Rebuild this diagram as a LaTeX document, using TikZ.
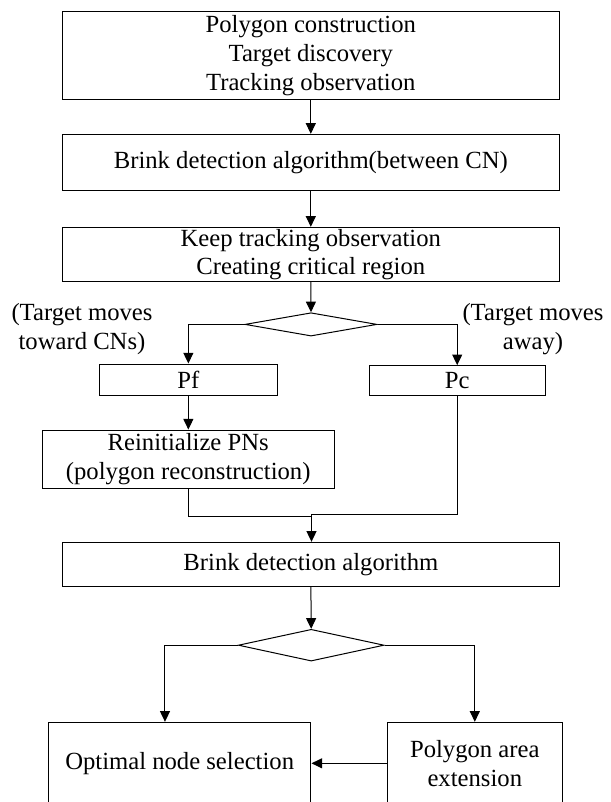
\documentclass[tikz,border=0pt]{standalone}
\usepackage{fontspec}
\setmainfont{Liberation Serif}
\usetikzlibrary{shapes.geometric,arrows.meta,calc}
\begin{document}
\begin{tikzpicture}[x=0.75pt,y=-0.75pt,
  every node/.style={font=\fontsize{18.5pt}{21.5pt}\selectfont, inner sep=0pt, align=center},
  box/.style={draw, rectangle, line width=0.75pt},
  decision/.style={draw, diamond, line width=0.75pt},
  link/.style={line width=0.75pt},
  flow/.style={link, -{Triangle[length=8pt,width=7.5pt]}}]
\clip (0,0) rectangle (610,802);

% main column
\node[box, minimum width=372.75pt, minimum height=65.7pt] (init) at (310.8,55.5)
  {Polygon construction\\Target discovery\\Tracking observation};
\node[box, minimum width=372.75pt, minimum height=41.8pt] (brink1) at (310.8,162.2)
  {Brink detection algorithm(between CN)};
\node[box, minimum width=372.75pt, minimum height=40.8pt] (keep) at (310.8,254.5)
  {Keep tracking observation\\Creating critical region};
\node[decision, minimum width=99pt, minimum height=17.5pt] (dec1) at (311,324.4) {};

% two branches
\node[box, minimum width=134pt, minimum height=23.25pt] (pf) at (188.35,379.5) {Pf};
\node[box, minimum width=132pt, minimum height=22pt] (pc) at (457.2,380.35) {Pc};
\node[box, minimum width=218.8pt, minimum height=43.7pt] (reinit) at (188.2,459.2)
  {Reinitialize PNs\\(polygon reconstruction)};
\node (lbltoward) at (82,329) {(Target moves\\toward CNs)};
\node (lblaway) at (533,329) {(Target moves\\away)};

% second stage
\node[box, minimum width=372.6pt, minimum height=33.3pt] (brink2) at (310.9,564.5)
  {Brink detection algorithm};
\node[decision, minimum width=109.3pt, minimum height=23.8pt] (dec2) at (311.2,645.2) {};
\node[box, minimum width=197pt, minimum height=61.5pt] (optimal) at (179.65,763.3)
  {Optimal node selection};
\node[box, minimum width=131.25pt, minimum height=61.5pt] (extend) at (474.8,763.3)
  {Polygon area\\extension};

% connectors
\coordinate (joinL) at (311.5,516);
\coordinate (joinR) at (311.5,514);
\draw[flow] (init.south) -- (brink1.north);
\draw[flow] (brink1.south) -- (keep.north);
\draw[flow] (keep.south) -- (dec1.north);
\draw[flow] (dec1.west) -| (pf.north);
\draw[flow] (dec1.east) -| (pc.north);
\draw[flow] (pf.south) -- (pf.south |- reinit.north);
\draw[link] (reinit.south) |- (joinL);
\draw[link] (pc.south) |- (joinR);
\draw[flow] (joinR) -- (brink2.north -| joinR);
\draw[flow] (brink2.south) -- (dec2.north);
\draw[flow] (dec2.west) -| ([xshift=-11pt]optimal.north);
\draw[flow] (dec2.east) -| (extend.north);
\draw[flow] (extend.west) -- (optimal.east);
\end{tikzpicture}
\end{document}
